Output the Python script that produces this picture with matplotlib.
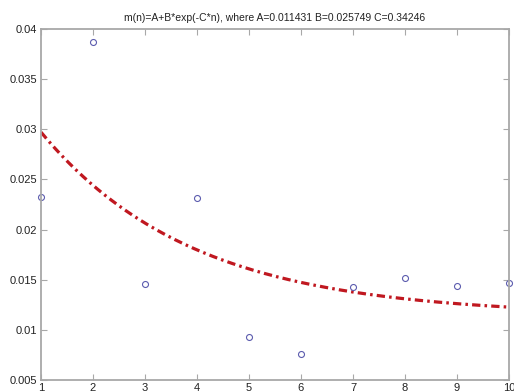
import numpy as np
import matplotlib
matplotlib.use("Agg")
import matplotlib.pyplot as plt

plt.rcParams['font.family'] = ['Liberation Sans', 'DejaVu Sans']

# observed values
n = [1, 2, 3, 4, 5, 6, 7, 8, 9, 10]
m = [0.02329, 0.03873, 0.01454, 0.02319, 0.00926, 0.00762, 0.01428, 0.01515, 0.01438, 0.01468]

# fitted model parameters
A = 0.011431
B = 0.025749
C = 0.34246

xticks = [1, 2, 3, 4, 5, 6, 7, 8, 9, 10]
yticks = [0.005, 0.01, 0.015, 0.02, 0.025, 0.03, 0.035, 0.04]
ytick_labels = ['0.005', '0.01', '0.015', '0.02', '0.025', '0.03', '0.035', '0.04']

fig = plt.figure(figsize=(5.14, 3.92), dpi=100)
ax = fig.add_axes([41 / 514, 12 / 392, 468 / 514, 351 / 392])

nn = np.linspace(1, 10, 200)
ax.plot(nn, A + B * np.exp(-C * nn), color='#c01820', linestyle='-.', linewidth=2.3,
        dashes=(2.6, 1.3, 0.8, 1.3))
ax.plot(n, m, linestyle='none', marker='o', markersize=4.3, markerfacecolor='none',
        markeredgecolor='#5c5cae', markeredgewidth=0.8, clip_on=False)

ax.set_xlim(1, 10)
ax.set_ylim(0.005, 0.04)
ax.set_xticks(xticks)
ax.set_yticks(yticks)
ax.set_yticklabels(ytick_labels)

for s in ax.spines.values():
    s.set_color('#a8a8a8')
    s.set_linewidth(1.3)
ax.tick_params(direction='in', length=4, width=0.8, color='#a8a8a8',
               top=True, right=True, labelsize=8, labelcolor='#222222')
ax.tick_params(axis='x', pad=2)
ax.tick_params(axis='y', pad=3)

ax.set_title('m(n)=A+B*exp(-C*n), where A=0.011431 B=0.025749 C=0.34246',
             fontsize=7.5, color='#222222', pad=6)

fig.savefig('out.png', dpi=100)
